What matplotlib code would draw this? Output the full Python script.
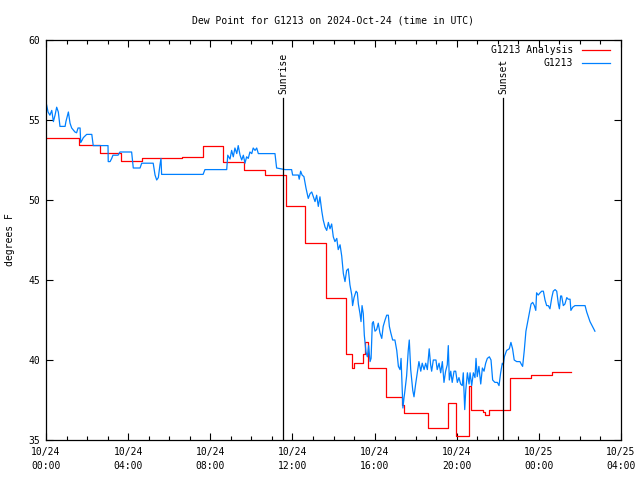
import matplotlib
matplotlib.use("Agg")
import matplotlib.pyplot as plt
from matplotlib.ticker import MultipleLocator
from matplotlib.lines import Line2D

# ---- data (time in hours since 2024-10-24 00:00 UTC) ----
analysis_t = [0.00, 1.61, 2.63, 3.65, 4.67, 6.62, 7.65, 8.62, 9.64, 10.66,
              11.69, 12.61, 13.63, 14.61, 14.90, 14.99, 15.45, 15.55, 15.70,
              16.58, 17.35, 17.45, 18.59, 19.59, 19.96, 20.62, 20.70, 21.30,
              21.40, 21.55, 22.61, 23.62, 24.64, 25.56]
analysis_v = [53.9, 53.45, 52.95, 52.45, 52.6, 52.7, 53.35, 52.4, 51.9, 51.55,
              49.6, 47.3, 43.9, 40.4, 39.5, 39.8, 40.4, 41.1, 39.5,
              37.7, 37.2, 36.7, 35.75, 37.3, 35.25, 38.4, 36.9, 36.75,
              36.55, 36.9, 38.9, 39.05, 39.25, 39.25]

obs_t = [0.03, 0.10, 0.19, 0.28, 0.36, 0.44, 0.52, 0.60, 0.68, 0.93, 0.97,
         1.09, 1.17, 1.25, 1.41, 1.49, 1.56, 1.66, 1.69, 1.74, 1.82, 1.98,
         2.23, 2.30, 3.02, 3.03, 3.12, 3.20, 3.26, 3.51, 3.60, 4.17, 4.25,
         4.58, 4.66, 5.22, 5.31, 5.39, 5.47, 5.55, 5.60, 5.63, 5.68, 7.65,
         7.74, 8.80, 8.85, 8.96, 9.04, 9.12, 9.20, 9.29, 9.36, 9.45, 9.53,
         9.61, 9.69, 9.77, 9.85, 9.93, 10.02, 10.09, 10.18, 10.26, 10.34,
         11.15, 11.23, 11.64, 11.96, 12.01, 12.29, 12.33, 12.40, 12.47,
         12.56, 12.66, 12.77, 12.86, 12.94, 13.02, 13.10, 13.18, 13.26,
         13.34, 13.43, 13.50, 13.59, 13.67, 13.75, 13.83, 13.91, 13.99,
         14.07, 14.16, 14.23, 14.32, 14.40, 14.48, 14.56, 14.64, 14.72,
         14.80, 14.89, 14.93, 15.00, 15.10, 15.16, 15.21, 15.29, 15.34,
         15.39, 15.45, 15.50, 15.58, 15.65, 15.71, 15.78, 15.83, 15.89,
         15.94, 16.02, 16.10, 16.18, 16.26, 16.35, 16.42, 16.51, 16.59,
         16.67, 16.72, 16.79, 16.88, 16.99, 17.08, 17.16, 17.24, 17.29,
         17.34, 17.38, 17.43, 17.48, 17.56, 17.64, 17.69, 17.76, 17.86,
         17.92, 18.00, 18.08, 18.16, 18.25, 18.32, 18.41, 18.49, 18.57,
         18.66, 18.73, 18.78, 18.86, 18.99, 19.05, 19.14, 19.22, 19.30,
         19.38, 19.46, 19.54, 19.59, 19.64, 19.71, 19.78, 19.87, 19.95,
         20.03, 20.11, 20.19, 20.27, 20.32, 20.39, 20.44, 20.52, 20.60,
         20.65, 20.73, 20.81, 20.89, 20.94, 21.00, 21.08, 21.17, 21.25,
         21.33, 21.41, 21.49, 21.59, 21.67, 21.75, 21.86, 21.98, 22.06,
         22.14, 22.22, 22.27, 22.32, 22.43, 22.56, 22.64, 22.72, 22.80,
         22.92, 23.08, 23.16, 23.21, 23.29, 23.37, 23.46, 23.53, 23.62,
         23.70, 23.78, 23.85, 23.89, 23.97, 24.06, 24.14, 24.22, 24.30,
         24.38, 24.46, 24.54, 24.63, 24.70, 24.79, 24.87, 24.95, 25.00,
         25.06, 25.11, 25.19, 25.27, 25.36, 25.43, 25.52, 25.56, 25.65,
         25.76, 26.25, 26.33, 26.41, 26.49, 26.57, 26.65, 26.73]
obs_v = [55.94, 55.5, 55.3, 55.6, 54.9, 55.3, 55.8, 55.5, 54.6, 54.6, 54.9,
         55.5, 54.8, 54.5, 54.25, 54.2, 54.5, 54.5, 53.6, 53.7, 53.9, 54.1,
         54.1, 53.4, 53.4, 52.4, 52.4, 52.6, 52.8, 52.8, 53.0, 53.0, 52.0,
         52.0, 52.3, 52.3, 51.56, 51.25, 51.4, 52.2, 52.6, 51.6, 51.6, 51.6,
         51.9, 51.9, 52.8, 52.56, 53.1, 52.7, 53.25, 52.9, 53.4, 52.8, 52.5,
         52.8, 52.3, 52.7, 52.6, 53.0, 52.9, 53.25, 53.1, 53.25, 52.9,
         52.9, 52.0, 51.9, 51.9, 51.56, 51.56, 51.3, 51.8, 51.56,
         51.46, 50.75, 50.1, 50.4, 50.5, 50.2, 49.9, 50.3, 49.6,
         50.2, 49.3, 48.75, 48.3, 48.1, 48.6, 48.2, 48.5, 47.7,
         47.4, 47.6, 46.9, 47.2, 46.5, 45.4, 44.9, 45.6, 45.7,
         44.7, 44.06, 43.4, 43.9, 44.3, 44.2, 43.5, 42.9, 42.4,
         43.4, 42.9, 41.56, 40.5, 40.2, 40.9, 39.9, 40.1, 42.3,
         42.4, 41.8, 41.9, 42.3, 41.7, 41.35, 42.1, 42.5, 42.8,
         42.8, 42.1, 41.7, 41.25, 41.25, 40.6, 39.6, 39.4, 40.1,
         38.3, 37.0, 37.6, 38.1, 39.0, 40.6, 41.25, 39.4, 38.1,
         37.7, 38.5, 39.2, 39.9, 39.3, 39.8, 39.4, 39.8, 39.4,
         40.7, 39.7, 39.3, 40.0, 40.0, 39.4, 39.8, 39.2, 39.9,
         38.6, 39.3, 39.7, 40.9, 38.75, 39.3, 38.6, 39.3, 39.3,
         38.6, 38.9, 38.5, 38.4, 39.2, 36.9, 38.1, 39.2, 38.5,
         39.2, 38.4, 39.2, 38.9, 40.1, 38.96, 39.6, 38.5, 39.5,
         39.3, 39.8, 40.1, 40.2, 40.0, 38.75, 38.6, 38.6, 38.4,
         39.2, 39.8, 39.7, 40.2, 40.6, 40.7, 41.1, 40.7, 40.0,
         39.9, 39.9, 39.7, 39.6, 40.6, 41.8, 42.4, 42.9, 43.5,
         43.6, 43.4, 43.1, 44.2, 44.06, 44.2, 44.3, 44.3, 43.75,
         43.4, 43.4, 43.2, 43.9, 44.3, 44.4, 44.3, 43.5, 43.2,
         44.0, 44.0, 43.4, 43.5, 43.9, 43.8, 43.8, 43.1, 43.3,
         43.4, 43.4, 43.0, 42.7, 42.4, 42.2, 42.0, 41.8]

sunrise_h = 11.54
sunset_h = 22.25

tick_hours = [0, 4, 8, 12, 16, 20, 24, 28]
tick_labels = ["10/24\n00:00", "10/24\n04:00", "10/24\n08:00", "10/24\n12:00",
               "10/24\n16:00", "10/24\n20:00", "10/25\n00:00", "10/25\n04:00"]
series_names = ["G1213 Analysis", "G1213"]

# ---- figure ----
plt.rcParams['font.family'] = ['DejaVu Sans Mono']
FS = 7
fig = plt.figure(figsize=(6.4, 4.8), dpi=100)
ax = fig.add_axes([46/640, 40/480, 575/640, 400/480])

red = '#ff0000'
blue = '#0080ff'
colors = [red, blue]
ax.plot(analysis_t, analysis_v, drawstyle='steps-post', color=red, lw=0.9)
ax.plot(obs_t, obs_v, color=blue, lw=0.9)

ax.set_xlim(0, 28)
ax.set_ylim(35, 60)
ax.set_xticks(tick_hours)
ax.set_xticklabels(tick_labels, fontsize=FS, linespacing=1.45)
ax.xaxis.set_minor_locator(MultipleLocator(1))
ax.set_yticks([35, 40, 45, 50, 55, 60])
ax.tick_params(axis='both', which='both', direction='in', top=True, right=True,
               width=0.8, labelsize=FS, color='black')
ax.tick_params(axis='both', which='major', length=5, pad=5)
ax.tick_params(axis='both', which='minor', length=3)
ax.tick_params(axis='y', pad=4)
for s in ax.spines.values():
    s.set_linewidth(0.9)

ax.set_ylabel('degrees F', fontsize=FS, labelpad=10)
ax.set_title('Dew Point for G1213 on 2024-Oct-24 (time in UTC)', fontsize=FS, pad=12)

# sunrise / sunset markers
for h, name in [(sunrise_h, 'Sunrise'), (sunset_h, 'Sunset')]:
    ax.axvline(h, ymin=0, ymax=0.855, color='black', lw=0.9)
    ax.text(h, 0.865, name, transform=ax.get_xaxis_transform(), rotation=90,
            ha='center', va='bottom', fontsize=FS)

# key (gnuplot style: right-aligned label, then line sample)
for i, (name, c) in enumerate(zip(series_names, colors)):
    yk = 0.975 - i * 0.0325
    ax.text(0.9165, yk, name, transform=ax.transAxes, ha='right', va='center',
            fontsize=FS)
    ax.add_line(Line2D([0.932, 0.981], [yk, yk], transform=ax.transAxes,
                       color=c, lw=0.9))

fig.savefig('out.png', dpi=100)
